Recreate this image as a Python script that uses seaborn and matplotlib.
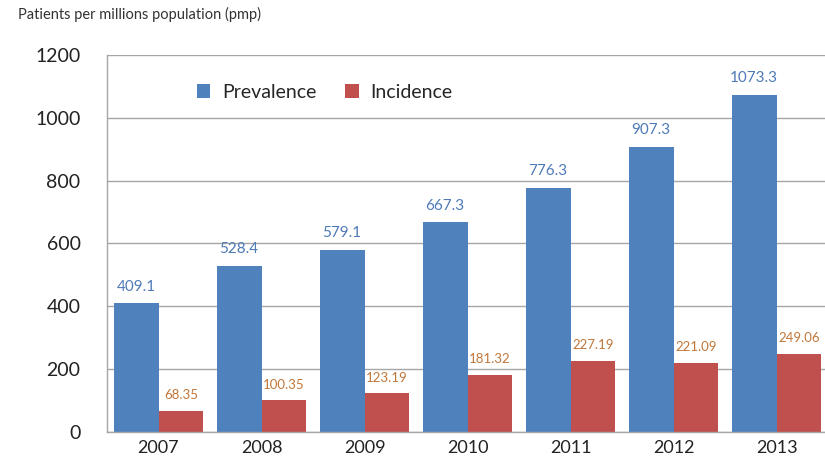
import matplotlib
matplotlib.use("Agg")
import matplotlib.pyplot as plt
import seaborn as sns
import pandas as pd
from matplotlib.ticker import FixedLocator

years = ["2007", "2008", "2009", "2010", "2011", "2012", "2013"]
prevalence = [409.1, 528.4, 579.1, 667.3, 776.3, 907.3, 1073.3]
incidence = [68.35, 100.35, 123.19, 181.32, 227.19, 221.09, 249.06]
prevalence_labels = ["409.1", "528.4", "579.1", "667.3", "776.3", "907.3", "1073.3"]
incidence_labels = ["68.35", "100.35", "123.19", "181.32", "227.19", "221.09", "249.06"]
series = ["Prevalence", "Incidence"]

df = pd.DataFrame({
    "year": years * 2,
    "value": prevalence + incidence,
    "series": [series[0]] * len(years) + [series[1]] * len(years),
})

sns.set_theme(style="white")
plt.rcParams["font.family"] = ["Lato", "DejaVu Sans"]

blue = "#4F81BD"
red = "#C0504D"
blue_text = "#4F7AB8"
red_text = "#C0773A"
grid_col = "#A6A6A6"

fig = plt.figure(figsize=(8.25, 4.59), dpi=100)
ax = fig.add_axes([0.1297, 0.0588, 0.874, 0.8214])

sns.barplot(data=df, x="year", y="value", hue="series", order=years,
            hue_order=series, palette=[blue, red], width=0.87, gap=0,
            saturation=1, edgecolor="none", ax=ax, legend=True)

ax.set_xlim(-0.5, len(years) - 0.5)
ax.set_ylim(0, 1200)
ax.set_yticks(range(0, 1201, 200))
ax.tick_params(axis="y", labelsize=14, length=5, color=grid_col, width=1,
               pad=14, labelcolor="#222222")
ax.tick_params(axis="x", which="major", labelsize=13, length=0, pad=6,
               labelcolor="#222222")
ax.xaxis.set_minor_locator(FixedLocator([i - 0.5 for i in range(len(years) + 1)]))
ax.tick_params(axis="x", which="minor", length=5, color=grid_col, width=1)
ax.set_xlabel("")
ax.set_ylabel("")

ax.yaxis.grid(True, color=grid_col, linewidth=1)
ax.set_axisbelow(True)
for side in ["top", "right"]:
    ax.spines[side].set_visible(False)
for side in ["left", "bottom"]:
    ax.spines[side].set_color(grid_col)
    ax.spines[side].set_linewidth(1)

for container, labels, col in zip(ax.containers, [prevalence_labels, incidence_labels],
                                  [blue_text, red_text]):
    fs = 11 if col == blue_text else 9.5
    ax.bar_label(container, labels=labels, padding=7, color=col, fontsize=fs)

leg = ax.legend(loc="upper left", bbox_to_anchor=(0.1, 0.97), ncol=2, frameon=False,
                fontsize=14, handlelength=0.7, handleheight=0.7, columnspacing=1.5,
                handletextpad=0.6)

fig.text(0.022, 0.968, "Patients per millions population (pmp)", fontsize=10.5,
         color="#333333", ha="left", va="center")

fig.savefig("out.png", dpi=100)
